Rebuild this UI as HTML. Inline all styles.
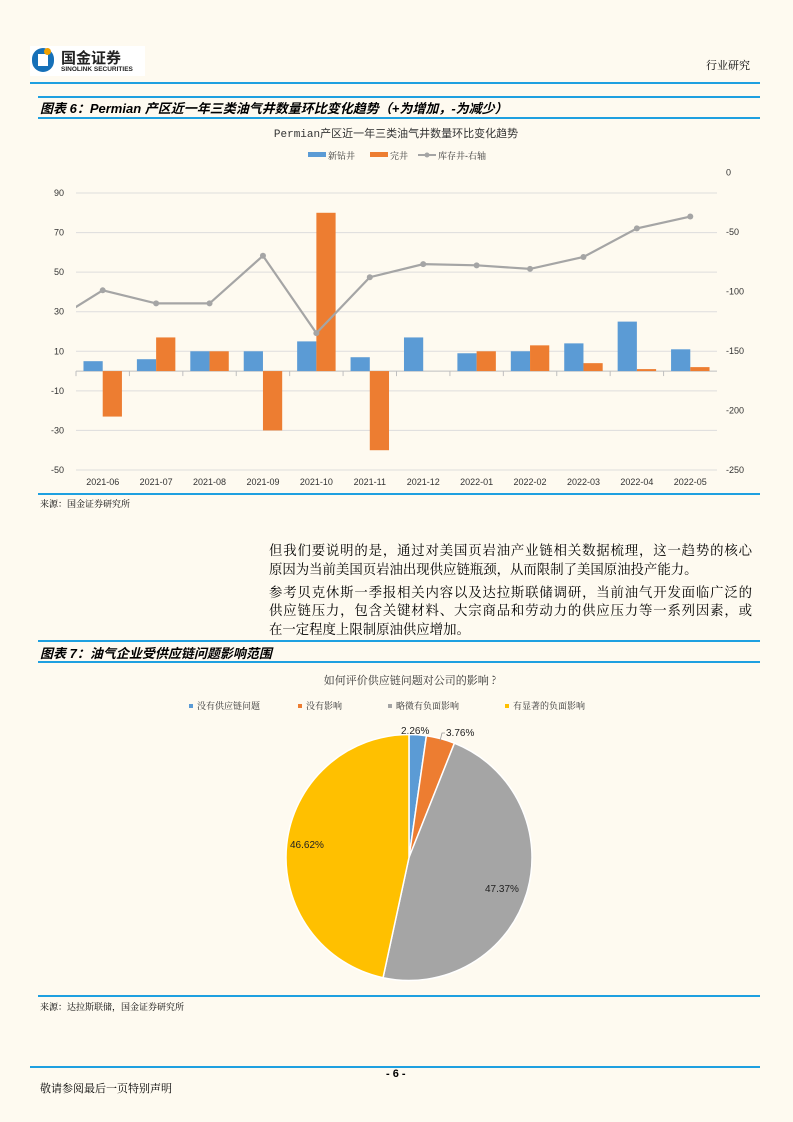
<!DOCTYPE html>
<html><head><meta charset="utf-8">
<style>
body{margin:0;background:#fefaf0;font-family:"Liberation Sans","Noto Serif CJK SC","Noto Sans CJK SC",serif;}
#page{position:relative;width:793px;height:1122px;background:#fefaf0;overflow:hidden;}
.abs{position:absolute;}
.hr{position:absolute;height:1.5px;background:#1ea0e0;}
.ttl{position:absolute;font-weight:bold;font-style:italic;font-size:13px;color:#000;font-family:"Liberation Sans","Noto Sans CJK SC",sans-serif;}
.src{position:absolute;font-size:9px;color:#000;font-family:"Liberation Serif","Noto Serif CJK SC",serif;}
.ln{position:absolute;left:269px;width:483px;font-size:13.4px;line-height:19px;height:19px;color:#000;font-family:"Liberation Serif","Noto Serif CJK SC",serif;text-align:justify;text-align-last:justify;white-space:nowrap;}
.ln.last{text-align-last:left;}
</style></head>
<body><div id="page">
<div class="abs" style="left:30px;top:46px;width:115px;height:30px;background:#fff;">
 <div class="abs" style="left:2px;top:2px;width:22px;height:24px;border-radius:11px;background:#1670b8;"></div>
 <div class="abs" style="left:8px;top:8px;width:10px;height:12px;background:#fff;"></div>
 <div class="abs" style="left:14px;top:2px;width:7px;height:7px;border-radius:4px;background:#f0a000;"></div>
 <div class="abs" style="left:31px;top:1px;font-size:15px;font-weight:bold;color:#222;font-family:'Noto Sans CJK SC',sans-serif;">国金证券</div>
 <div class="abs" style="left:31px;top:20px;font-size:6.5px;font-weight:bold;color:#222;">SINOLINK SECURITIES</div>
</div>
<div class="abs" style="left:706px;top:57px;font-size:11px;font-family:'Noto Serif CJK SC',serif;">行业研究</div>
<div class="hr" style="left:30px;top:82px;width:730px;"></div>
<div class="hr" style="left:38px;top:96px;width:722px;"></div>
<div class="ttl" style="left:40px;top:98px;">图表 6：Permian 产区近一年三类油气井数量环比变化趋势（+为增加，-为减少）</div>
<div class="hr" style="left:38px;top:117px;width:722px;"></div>

<svg class="abs" style="left:0;top:0" width="793" height="500">
<g id="c1"></g></svg>
<div class="hr" style="left:38px;top:493px;width:722px;"></div>
<div class="src" style="left:40px;top:497px;">来源：国金证券研究所</div>

<div>
<div class="ln" style="top:541px;">但我们要说明的是，通过对美国页岩油产业链相关数据梳理，这一趋势的核心</div>
<div class="ln last" style="top:560px;">原因为当前美国页岩油出现供应链瓶颈，从而限制了美国原油投产能力。</div>
</div>
<div>
<div class="ln" style="top:583px;">参考贝克休斯一季报相关内容以及达拉斯联储调研，当前油气开发面临广泛的</div>
<div class="ln" style="top:601px;">供应链压力，包含关键材料、大宗商品和劳动力的供应压力等一系列因素，或</div>
<div class="ln last" style="top:620px;">在一定程度上限制原油供应增加。</div>
</div>

<div class="hr" style="left:38px;top:640px;width:722px;"></div>
<div class="ttl" style="left:40px;top:643px;">图表 7：油气企业受供应链问题影响范围</div>
<div class="hr" style="left:38px;top:661px;width:722px;"></div>
<svg class="abs" style="left:0;top:0" width="793" height="1000"><g id="c2"></g></svg>
<div class="hr" style="left:38px;top:995px;width:722px;"></div>
<div class="src" style="left:40px;top:1000px;">来源：达拉斯联储，国金证券研究所</div>
<div class="hr" style="left:30px;top:1066px;width:730px;"></div>
<div class="abs" style="left:386px;top:1068px;font-size:11px;font-weight:bold;">- 6 -</div>
<div class="abs" style="left:40px;top:1080px;font-size:11px;font-family:'Noto Serif CJK SC',serif;">敬请参阅最后一页特别声明</div>

<script>
const NS="http://www.w3.org/2000/svg";
const categories=["2021-06","2021-07","2021-08","2021-09","2021-10","2021-11","2021-12","2022-01","2022-02","2022-03","2022-04","2022-05"];
const newDrilled=[5,6,10,10,15,7,17,9,10,14,25,11];
const completed=[-23,17,10,-30,80,-40,0,10,13,4,1,2];
const inventory=[-99,-110,-110,-70,-135,-88,-77,-78,-81,-71,-47,-37];
const inventoryPrev=-127;
const leftTicks=[90,70,50,30,10,-10,-30,-50];
const rightTicks=[0,-50,-100,-150,-200,-250];
const pieLabels=["没有供应链问题","没有影响","略微有负面影响","有显著的负面影响"];
const pieValues=[2.26,3.76,47.37,46.62];
const pieColors=["#5b9bd5","#ed7d31","#a5a5a5","#ffc000"];

function mk(tag,attrs,parent,text){const e=document.createElementNS(NS,tag);for(const k in attrs)e.setAttribute(k,attrs[k]);if(text!==undefined)e.textContent=text;parent.appendChild(e);return e;}
const g=document.getElementById('c1');
const X0=76,X1=717,bw=(X1-X0)/categories.length;
const yL=v=>193+(90-v)*(277/140);
const yR=v=>172.5+(-v)*(297.5/250);
const cx=i=>X0+bw*(i+0.5);
let t=mk('text',{x:396,y:137,'text-anchor':'middle','font-size':11,fill:'#333','font-family':'Liberation Mono,Noto Sans CJK SC,monospace'},g,'Permian产区近一年三类油气井数量环比变化趋势');

const lg=[["#5b9bd5","新钻井",308],["#ed7d31","完井",370]];
lg.forEach(l=>{mk('rect',{x:l[2],y:152,width:18,height:5,fill:l[0]},g);mk('text',{x:l[2]+20,y:159,'font-size':9,fill:'#333'},g,l[1]);});
mk('line',{x1:418,y1:155,x2:436,y2:155,stroke:'#a5a5a5','stroke-width':2},g);mk('circle',{cx:427,cy:155,r:2.5,fill:'#a5a5a5'},g);
mk('text',{x:438,y:159,'font-size':9,fill:'#333'},g,'库存井-右轴');
leftTicks.forEach(v=>{const y=yL(v);
 const gl=mk('line',{x1:X0,x2:X1,y1:y,y2:y,stroke:'#dddddd','stroke-width':1},g);
 mk('text',{x:64,y:y+3,'text-anchor':'end','font-size':9,fill:'#333'},g,v);});
rightTicks.forEach(v=>{mk('text',{x:726,y:yR(v)+3,'font-size':9,fill:'#333'},g,v);});
mk('line',{x1:X0,x2:X1,y1:yL(0),y2:yL(0),stroke:'#bfbfbf'},g);
categories.forEach((c,i)=>{
 mk('line',{x1:X0+bw*i,x2:X0+bw*i,y1:yL(0),y2:yL(0)+5,stroke:'#bfbfbf'},g);
 mk('text',{x:cx(i),y:485,'text-anchor':'middle','font-size':9,fill:'#333'},g,c);
 const bwid=bw*0.36;
 let v=newDrilled[i];let r=mk('rect',{x:cx(i)-bwid,y:Math.min(yL(v),yL(0)),width:bwid,height:Math.abs(yL(v)-yL(0)),fill:'#5b9bd5'},g);
 
 v=completed[i];r=mk('rect',{x:cx(i),y:Math.min(yL(v),yL(0)),width:bwid,height:Math.abs(yL(v)-yL(0)),fill:'#ed7d31'},g);
 
});
mk('clipPath',{id:'cl'},g);mk('rect',{x:X0,y:160,width:X1-X0,height:320},document.getElementById('cl'));
let pts=[[cx(-1),yR(inventoryPrev)]].concat(inventory.map((v,i)=>[cx(i),yR(v)]));
let ln=mk('polyline',{points:pts.map(p=>p.join(',')).join(' '),fill:'none',stroke:'#a5a5a5','stroke-width':2.2,'clip-path':'url(#cl)'},g);

inventory.forEach((v,i)=>{const c=mk('circle',{cx:cx(i),cy:yR(v),r:3,fill:'#a5a5a5'},g);});

const p=document.getElementById('c2');
mk('text',{x:410,y:684,'text-anchor':'middle','font-size':11,fill:'#333','font-family':'Noto Serif CJK SC,serif'},p,'如何评价供应链问题对公司的影响 ?');
const lx=[189,298,388,505];
pieLabels.forEach((l,i)=>{mk('rect',{x:lx[i],y:704,width:4,height:4,fill:pieColors[i]},p);mk('text',{x:lx[i]+8,y:709,'font-size':9,fill:'#333','font-family':'Noto Serif CJK SC,serif'},p,l);});
const PX=409,PY=857.5,R=123;const tot=pieValues.reduce((a,b)=>a+b,0);let a=-Math.PI/2;
const labPos=[[401,734],[446,736],[485,892],[290,848]];
pieValues.forEach((v,i)=>{const da=v/tot*2*Math.PI;const a2=a+da;
 const x1=PX+R*Math.cos(a),y1=PY+R*Math.sin(a),x2=PX+R*Math.cos(a2),y2=PY+R*Math.sin(a2);
 const s=mk('path',{d:`M${PX},${PY}L${x1},${y1}A${R},${R} 0 ${da>Math.PI?1:0} 1 ${x2},${y2}Z`,fill:pieColors[i],stroke:'#fff','stroke-width':1.5},p);
 
 const lb=mk('text',{x:labPos[i][0],y:labPos[i][1],'font-size':10,fill:'#222'},p,v.toFixed(2)+'%');
 
 a=a2;});
mk('polyline',{points:'445,733 442,733 440,741',fill:'none',stroke:'#999','stroke-width':0.8},p);
</script>
</div></body></html>
